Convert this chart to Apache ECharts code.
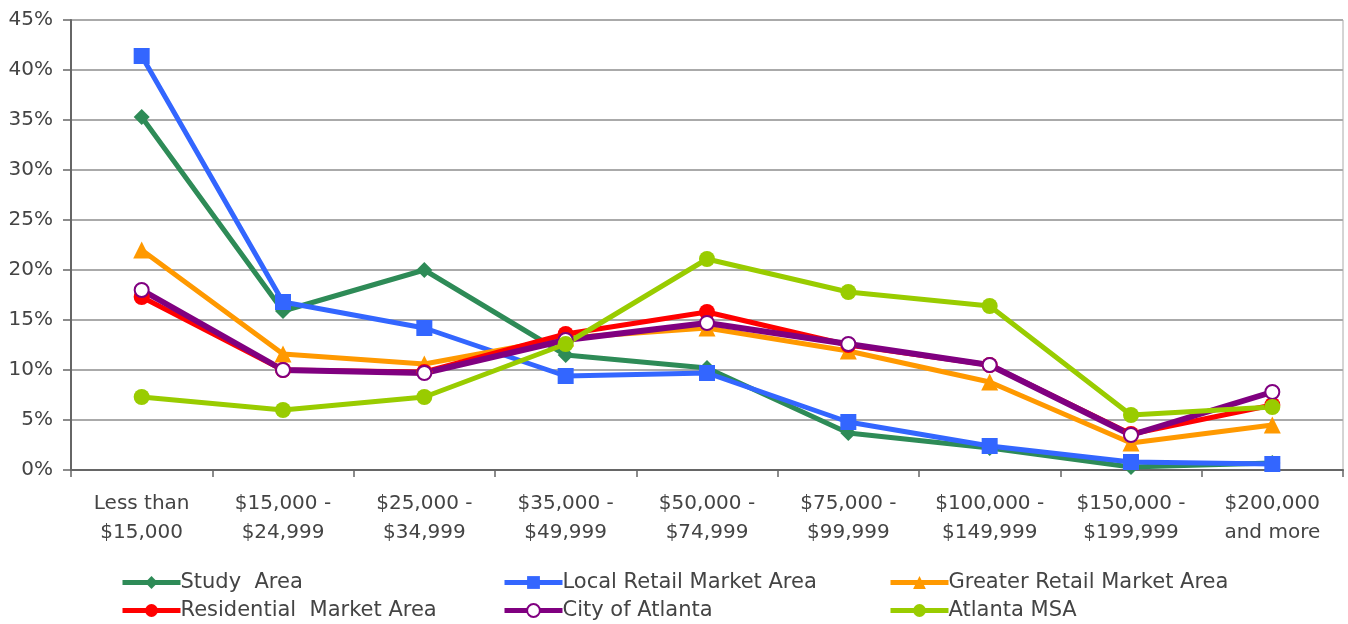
<!DOCTYPE html>
<html>
<head>
<meta charset="utf-8">
<script src="https://cdn.jsdelivr.net/npm/echarts@6/dist/echarts.min.js"></script>
<style>
  html, body { margin: 0; padding: 0; background: #fff; }
  #chart { width: 1348px; height: 624px; }
</style>
</head>
<body>
<div id="chart"></div>
<script>
const categories = [
  "Less than\n$15,000", "$15,000 -\n$24,999", "$25,000 -\n$34,999", "$35,000 -\n$49,999",
  "$50,000 -\n$74,999", "$75,000 -\n$99,999", "$100,000 -\n$149,999", "$150,000 -\n$199,999",
  "$200,000\nand more"
];
const studyArea = [35.3, 15.9, 20.0, 11.5, 10.2, 3.7, 2.2, 0.3, 0.7];
const localRetail = [41.4, 16.8, 14.2, 9.4, 9.7, 4.8, 2.4, 0.8, 0.6];
const greaterRetail = [22.0, 11.6, 10.6, 13.2, 14.2, 11.9, 8.8, 2.7, 4.5];
const residential = [17.3, 10.0, 9.8, 13.6, 15.8, 12.5, 10.5, 3.6, 6.5];
const cityAtlanta = [18.0, 10.0, 9.7, 13.0, 14.7, 12.6, 10.5, 3.5, 7.8];
const atlantaMsa = [7.3, 6.0, 7.3, 12.6, 21.1, 17.8, 16.4, 5.5, 6.3];

const FONT = "DejaVu Sans";
const TEXT = "#444";

function makeSeries(name, data, color, symbol, size, width, fill) {
  return {
    name,
    type: "line",
    data,
    symbol,
    symbolSize: size,
    showSymbol: true,
    lineStyle: { color, width },
    itemStyle: { color: fill || color, borderColor: color, borderWidth: fill ? 2 : 0 },
    emphasis: { disabled: true }
  };
}

const chart = echarts.init(document.getElementById("chart"), null, { renderer: "canvas" });

const legendBase = {
  orient: "vertical",
  top: 572,
  height: 62,
  padding: 0,
  itemGap: 7,
  itemWidth: 58,
  itemHeight: 16,
  lineStyle: { width: 5 },
  textStyle: { fontFamily: FONT, fontSize: 21, color: TEXT, padding: [0, 0, 0, -5] },
  selectedMode: false
};

chart.setOption({
  animation: false,
  backgroundColor: "#fff",
  grid: {
    left: 71, right: 5, top: 20, bottom: 154,
    show: true, borderColor: "#aaa", borderWidth: 1
  },
  legend: [
    { ...legendBase, left: 120, data: ["Study  Area", "Residential  Market Area"] },
    { ...legendBase, left: 502, data: ["Local Retail Market Area", "City of Atlanta"] },
    { ...legendBase, left: 888, data: ["Greater Retail Market Area", "Atlanta MSA"] }
  ],
  xAxis: {
    type: "category",
    data: categories,
    boundaryGap: true,
    axisLine: { lineStyle: { color: "#666", width: 2 } },
    axisTick: { show: true, length: 7, lineStyle: { color: "#666", width: 1.5 } },
    axisLabel: {
      fontFamily: FONT, fontSize: 20, color: TEXT, margin: 19, lineHeight: 29, interval: 0
    }
  },
  yAxis: {
    type: "value",
    min: 0, max: 45, interval: 5,
    axisLine: { show: true, lineStyle: { color: "#666", width: 2 } },
    axisTick: { show: true, length: 8, lineStyle: { color: "#666", width: 1.5 } },
    splitLine: { lineStyle: { color: "#aaa", width: 2 } },
    axisLabel: {
      fontFamily: FONT, fontSize: 20, color: TEXT, margin: 18,
      formatter: "{value}%"
    }
  },
  series: [
    makeSeries("Study  Area", studyArea, "#2e8b57", "diamond", 16, 5),
    makeSeries("Local Retail Market Area", localRetail, "#3366ff", "rect", 16, 5),
    makeSeries("Greater Retail Market Area", greaterRetail, "#ff9900", "triangle", 17, 5),
    makeSeries("Residential  Market Area", residential, "#ff0000", "circle", 16, 5),
    makeSeries("City of Atlanta", cityAtlanta, "#800080", "circle", 14, 6, "#ffffff"),
    makeSeries("Atlanta MSA", atlantaMsa, "#99cc00", "circle", 16, 5)
  ]
});
</script>
</body>
</html>
